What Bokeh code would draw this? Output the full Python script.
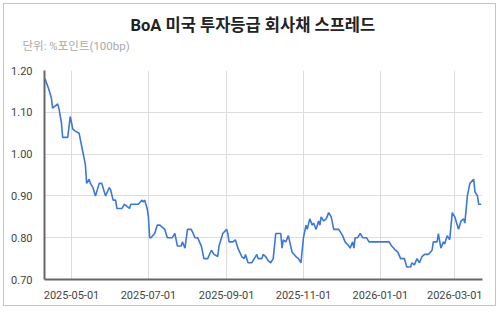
import pandas as pd
from bokeh.plotting import figure
from bokeh.models import (Title, FixedTicker, DatetimeTickFormatter,
                          NumeralTickFormatter, Range1d, ColumnDataSource)
from bokeh.embed import file_html
from bokeh.resources import INLINE

title_text = "BoA 미국 투자등급 회사채 스프레드"
unit_text = "단위: %포인트(100bp)"

dates = [
    "2025-04-10", "2025-04-13", "2025-04-15", "2025-04-16", "2025-04-20", "2025-04-21",
    "2025-04-23", "2025-04-24", "2025-04-28", "2025-04-30", "2025-05-02", "2025-05-04",
    "2025-05-07", "2025-05-09", "2025-05-10", "2025-05-12", "2025-05-13", "2025-05-15",
    "2025-05-16", "2025-05-18", "2025-05-20", "2025-05-23", "2025-05-25", "2025-05-28",
    "2025-05-31", "2025-06-01", "2025-06-03", "2025-06-05", "2025-06-06", "2025-06-10",
    "2025-06-12", "2025-06-14", "2025-06-16", "2025-06-17", "2025-06-20", "2025-06-23",
    "2025-06-26", "2025-06-27", "2025-06-28", "2025-06-30", "2025-07-01", "2025-07-02",
    "2025-07-03", "2025-07-06", "2025-07-08", "2025-07-10", "2025-07-14", "2025-07-16",
    "2025-07-20", "2025-07-22", "2025-07-23", "2025-07-24", "2025-07-27", "2025-07-28",
    "2025-07-30", "2025-08-01", "2025-08-04", "2025-08-07", "2025-08-09", "2025-08-12",
    "2025-08-14", "2025-08-17", "2025-08-20", "2025-08-22", "2025-08-25", "2025-08-26",
    "2025-08-29", "2025-09-01", "2025-09-02", "2025-09-03", "2025-09-06", "2025-09-08",
    "2025-09-10", "2025-09-13", "2025-09-15", "2025-09-16", "2025-09-18", "2025-09-21",
    "2025-09-23", "2025-09-25", "2025-09-26", "2025-09-29", "2025-09-30", "2025-10-02",
    "2025-10-04", "2025-10-06", "2025-10-08", "2025-10-10", "2025-10-14", "2025-10-15",
    "2025-10-16", "2025-10-18", "2025-10-20", "2025-10-23", "2025-10-26", "2025-10-28",
    "2025-10-30", "2025-11-01", "2025-11-03", "2025-11-04", "2025-11-06", "2025-11-08",
    "2025-11-09", "2025-11-11", "2025-11-13", "2025-11-14", "2025-11-15", "2025-11-17",
    "2025-11-19", "2025-11-21", "2025-11-23", "2025-11-25", "2025-11-29", "2025-12-02",
    "2025-12-04", "2025-12-07", "2025-12-08", "2025-12-10", "2025-12-11", "2025-12-12",
    "2025-12-14", "2025-12-16", "2025-12-18", "2025-12-21", "2025-12-23", "2026-01-08",
    "2026-01-10", "2026-01-13", "2026-01-15", "2026-01-17", "2026-01-20", "2026-01-22",
    "2026-01-25", "2026-01-26", "2026-01-28", "2026-01-30", "2026-02-01", "2026-02-03",
    "2026-02-05", "2026-02-08", "2026-02-11", "2026-02-12", "2026-02-15", "2026-02-16",
    "2026-02-18", "2026-02-20", "2026-02-21", "2026-02-23", "2026-02-25", "2026-02-27",
    "2026-03-01", "2026-03-02", "2026-03-04", "2026-03-06", "2026-03-08", "2026-03-09",
    "2026-03-11", "2026-03-13", "2026-03-16", "2026-03-17", "2026-03-19", "2026-03-20",
    "2026-03-22",
]
spread = [
    1.18, 1.155, 1.135, 1.11, 1.12, 1.11,
    1.075, 1.04, 1.04, 1.09, 1.06, 1.055,
    1.05, 1.02, 1.005, 0.975, 0.93, 0.94,
    0.93, 0.92, 0.90, 0.93, 0.93, 0.90,
    0.92, 0.915, 0.89, 0.89, 0.87, 0.87,
    0.88, 0.875, 0.87, 0.88, 0.88, 0.88,
    0.89, 0.885, 0.89, 0.87, 0.85, 0.80,
    0.80, 0.81, 0.83, 0.83, 0.82, 0.80,
    0.80, 0.81, 0.795, 0.78, 0.78, 0.79,
    0.775, 0.82, 0.82, 0.80, 0.80, 0.78,
    0.75, 0.75, 0.77, 0.76, 0.755, 0.78,
    0.81, 0.82, 0.81, 0.79, 0.79, 0.795,
    0.775, 0.755, 0.75, 0.76, 0.74, 0.74,
    0.75, 0.76, 0.75, 0.75, 0.76, 0.755,
    0.745, 0.74, 0.75, 0.81, 0.81, 0.775,
    0.795, 0.79, 0.805, 0.765, 0.755, 0.75,
    0.74, 0.80, 0.83, 0.82, 0.845, 0.83,
    0.835, 0.82, 0.84, 0.83, 0.85, 0.84,
    0.845, 0.86, 0.85, 0.82, 0.82, 0.805,
    0.79, 0.78, 0.775, 0.79, 0.775, 0.80,
    0.80, 0.81, 0.80, 0.80, 0.79, 0.79,
    0.78, 0.77, 0.765, 0.75, 0.75, 0.73,
    0.73, 0.74, 0.735, 0.75, 0.74, 0.755,
    0.76, 0.76, 0.77, 0.79, 0.79, 0.81,
    0.775, 0.79, 0.785, 0.805, 0.795, 0.86,
    0.85, 0.84, 0.82, 0.84, 0.845, 0.835,
    0.90, 0.93, 0.94, 0.91, 0.90, 0.88,
    0.88,
]
x_tick_dates = ["2025-05-01", "2025-07-01", "2025-09-01", "2025-11-01", "2026-01-01", "2026-03-01"]
y_ticks = [0.70, 0.80, 0.90, 1.00, 1.10, 1.20]
x_start, x_end = "2025-04-09 14:00", "2026-03-23"

df = pd.DataFrame({"date": pd.to_datetime(dates), "spread": spread})
src = ColumnDataSource(df)

p = figure(width=493, height=303, x_axis_type="datetime", output_backend="svg",
           toolbar_location=None, title=None,
           x_range=Range1d(pd.Timestamp(x_start), pd.Timestamp(x_end)),
           y_range=Range1d(min(y_ticks), max(y_ticks)),
           min_border_left=40, min_border_right=15, min_border_top=66, min_border_bottom=28,
           margin=(3, 4, 6, 3),
           styles={"border": "1px solid #c4c4c4", "box-sizing": "border-box"})
p.outline_line_color = None
p.background_fill_color = "white"
p.border_fill_color = "white"

p.line("date", "spread", source=src, line_color="#3c78d8", line_width=1.6)

tick_ms = [pd.Timestamp(d).value // 10**6 for d in x_tick_dates]
p.xaxis.ticker = FixedTicker(ticks=tick_ms)
p.xaxis.formatter = DatetimeTickFormatter(months="%Y-%m-%d", days="%Y-%m-%d", years="%Y-%m-%d")
p.yaxis.ticker = FixedTicker(ticks=y_ticks)
p.yaxis.formatter = NumeralTickFormatter(format="0.00")

for ax in (p.xaxis[0], p.yaxis[0]):
    ax.axis_line_color = "#666666"
    ax.axis_line_width = 2
    ax.major_tick_line_color = None
    ax.minor_tick_line_color = None
    ax.major_label_text_font = "Roboto"
    ax.major_label_text_font_size = "11px"
    ax.major_label_text_color = "#444444"
p.yaxis.major_label_standoff = 6
p.xaxis.major_label_standoff = 5

p.xgrid.grid_line_color = "#dddddd"
p.ygrid.grid_line_color = "#dddddd"

font_stack = "Roboto, 'Noto Sans CJK KR'"
# subtitle first (closest to the frame), then main title above it
p.add_layout(Title(text=unit_text, text_font=font_stack, text_font_size="11.5px",
                   text_font_style="normal", text_color="#aaaaaa", align="left",
                   offset=-22, standoff=35), "above")
p.add_layout(Title(text=title_text, text_font=font_stack, text_font_size="16.5px",
                   text_font_style="bold", text_color="#222222", align="left",
                   offset=86, standoff=-30), "above")

open("out.html", "w").write(file_html(p, INLINE))
